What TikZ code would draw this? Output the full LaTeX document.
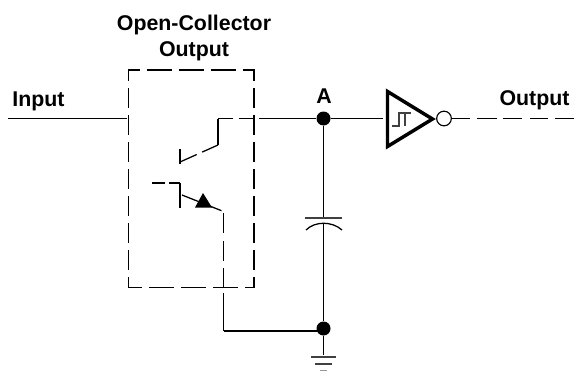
\documentclass[tikz,border=0pt]{standalone}
\usepackage{fontspec}
\setmainfont{Liberation Sans}
\begin{document}
\begin{tikzpicture}[x=0.75pt,y=-0.75pt,
  wire/.style={draw=black,line width=0.95pt},
  boxh/.style={draw=black,line width=0.95pt,line cap=rect,dash pattern=on 18.2pt off 5.8pt},
  boxv/.style={draw=black,line width=0.95pt,line cap=rect,dash pattern=on 14.6pt off 5.65pt},
  dotnode/.style={circle,fill=black,inner sep=0pt,minimum size=10.5pt},
  label/.style={font=\bfseries\fontsize{16pt}{18pt}\selectfont,inner sep=0pt,anchor=base,align=center},
  thinl/.style={draw=black!75,line width=0.9pt}]
\useasboundingbox (0,0) rectangle (574,371);
% labels
\node[label] (title1) at (194,30.5) {Open-Collector};
\node[label] (title2) at (194,56) {Output};
\node[label] (inlab) at (38.5,106) {Input};
\node[label] (alab) at (324,103.5) {A};
\node[label] (outlab) at (534.5,105) {Output};
% coordinates
\coordinate (in) at (8,118.5);
\coordinate (boxL) at (127,118.5);
\coordinate (coll) at (218,118.5);
\coordinate (collb) at (218,145);
\coordinate (cbase) at (180,162);
\coordinate (bar1a) at (180,149);
\coordinate (bar1b) at (180,164);
\coordinate (bar2a) at (180,183);
\coordinate (bar2b) at (180,208);
\coordinate (basel) at (152,183);
\coordinate (emit) at (182,195);
\coordinate (emitb) at (221.5,210.7);
\coordinate (emitv) at (223.5,213);
\coordinate (emitd) at (223.5,331);
\coordinate (tl) at (128.5,70);
\coordinate (tr) at (254,70);
\coordinate (bl) at (128.5,287.7);
\coordinate (br) at (254,287.7);
\node[dotnode] (A) at (323.5,118.5) {};
\node[dotnode] (G) at (323.5,328.5) {};
\coordinate (p1) at (323.5,218);
\coordinate (p2) at (323.5,223);
\coordinate (gnd) at (323.5,355);
\coordinate (invin) at (383,118.5);
\coordinate (tia) at (387.5,91.5);
\coordinate (tib) at (387.5,146.5);
\coordinate (tic) at (432.5,119);
\node[circle,draw=black,line width=0.85pt,fill=white,inner sep=0pt,minimum size=11pt] (bub) at (444,118.5) {};
\coordinate (outr) at (574,118.5);
% box
\draw[boxh,dash phase=9.7pt] (tl) -- (tr);
\draw[boxh,dash phase=8.2pt] (bl) -- (br);
\draw[boxv,dash phase=6.5pt] (tl) -- (bl);
\draw[boxv,dash phase=6.5pt] (tr) -- (br);
% connectors
\draw[wire] (in) -- (boxL);
\draw[wire] (coll) -- (collb);
\draw[wire,dash pattern=on 11.5pt off 4.2pt on 11.7pt off 3.3pt on 200pt] (coll) -- (A);
\draw[wire,dash pattern=on 13pt off 4.5pt on 100pt] (collb) -- (cbase);
\draw[wire] (bar1a) -- (bar1b);
\draw[wire] (bar2a) -- (bar2b);
\draw[wire,dash pattern=on 9.5pt off 3.5pt on 30pt] (basel) -- (bar2a);
\draw[wire] (emit) -- (emitb);
\fill[black] (203,193) -- (212,207.5) -- (195,207.5) -- cycle;
\draw[wire,dash pattern=on 15pt off 6pt on 15pt off 5.25pt on 15pt off 4pt on 200pt] (emitv) -- (emitd);
\draw[wire] (emitd) -- (emitd -| G);
\draw[wire] (A) -- (p1);
\draw[wire] (p2) -- (G);
\draw[wire] (G) -- (gnd);
\draw[wire] (A) -- (invin);
\draw[thinl] (305,218) -- (342,218);
\draw[wire] (306,230) .. controls (315,221) and (332,221) .. (342,230);
\draw[thinl] (311,357) -- (336,357);
\draw[thinl] (315,364) -- (332,364);
\draw[thinl,draw=black!40] (320,370.5) -- (327,370.5);
% inverter
\draw[draw=black,line width=2.6pt,line join=miter] (tia) -- (tib) -- (tic) -- cycle;
\draw[thinl] (392,126) -- (399,126) -- (399,113) -- (411,113);
\draw[thinl] (405,113) -- (405,126);
\draw[wire,dash pattern=on 13.5pt off 5.2pt on 15pt off 4.5pt on 14.3pt off 6pt on 13.5pt off 5.5pt on 14pt] (bub) -- (outr);
\end{tikzpicture}
\end{document}
